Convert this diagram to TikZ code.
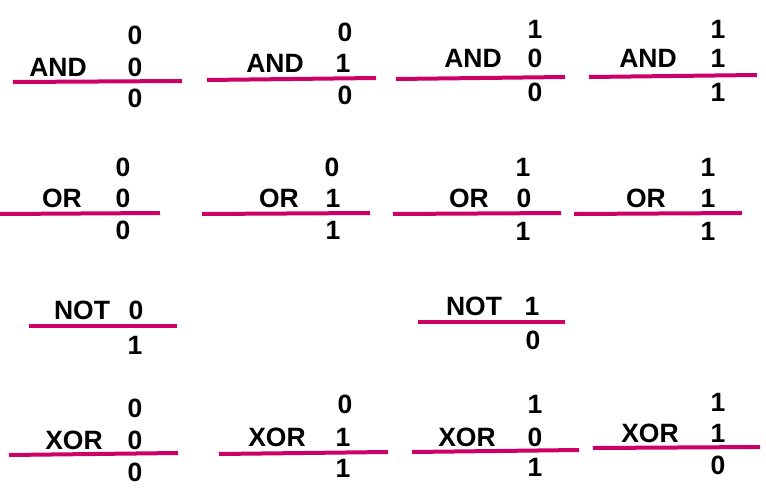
\documentclass[tikz,border=0pt]{standalone}
\usepackage{fontspec}
\setmainfont{Liberation Sans}
\definecolor{barcol}{RGB}{204,0,102}
\begin{document}
\begin{tikzpicture}[x=1pt,y=-1pt,
  txt/.style={inner sep=0pt,text height=19pt,text depth=0pt,font=\fontsize{26.5}{30}\selectfont\bfseries},
  bar/.style={draw=barcol,line width=4pt}]
\useasboundingbox (0,0) rectangle (766,498);
% ---------- AND row ----------
\node[txt] (l1) at (58,67) {AND};
\node[txt] (t1) at (135,35) {0};
\node[txt] (m1) at (135,67) {0};
\node[txt] (b1) at (135,98) {0};
\coordinate (s1) at (13,82); \coordinate (e1) at (182,81);
\draw[bar] (s1) -- (e1);

\node[txt] (l2) at (275,63) {AND};
\node[txt] (t2) at (345,32) {0};
\node[txt] (m2) at (343,63) {1};
\node[txt] (b2) at (345,95) {0};
\coordinate (s2) at (207,80); \coordinate (e2) at (376,78);
\draw[bar] (s2) -- (e2);

\node[txt] (l3) at (473,58) {AND};
\node[txt] (t3) at (535,29) {1};
\node[txt] (m3) at (535,58) {0};
\node[txt] (b3) at (535,92) {0};
\coordinate (s3) at (396,79); \coordinate (e3) at (565,77);
\draw[bar] (s3) -- (e3);

\node[txt] (l4) at (648,58) {AND};
\node[txt] (t4) at (718,29) {1};
\node[txt] (m4) at (718,58) {1};
\node[txt] (b4) at (718,92) {1};
\coordinate (s4) at (589,77); \coordinate (e4) at (757,75);
\draw[bar] (s4) -- (e4);
% ---------- OR row ----------
\node[txt] (l5) at (62,198) {OR};
\node[txt] (t5) at (123,167) {0};
\node[txt] (m5) at (123,198) {0};
\node[txt] (b5) at (123,230) {0};
\coordinate (s5) at (0,214); \coordinate (e5) at (160,213);
\draw[bar] (s5) -- (e5);

\node[txt] (l6) at (279,198) {OR};
\node[txt] (t6) at (332,167) {0};
\node[txt] (m6) at (333,198) {1};
\node[txt] (b6) at (333,230) {1};
\coordinate (s6) at (202,214); \coordinate (e6) at (370,213);
\draw[bar] (s6) -- (e6);

\node[txt] (l7) at (469,198) {OR};
\node[txt] (t7) at (523,167) {1};
\node[txt] (m7) at (524,198) {0};
\node[txt] (b7) at (523,231) {1};
\coordinate (s7) at (393,214); \coordinate (e7) at (561,213);
\draw[bar] (s7) -- (e7);

\node[txt] (l8) at (646,198) {OR};
\node[txt] (t8) at (708,167) {1};
\node[txt] (m8) at (708,198) {1};
\node[txt] (b8) at (708,231) {1};
\coordinate (s8) at (574,214); \coordinate (e8) at (742,213);
\draw[bar] (s8) -- (e8);
% ---------- NOT row ----------
\node[txt] (l9) at (82,310) {NOT};
\node[txt] (m9) at (136,310) {0};
\node[txt] (b9) at (135,345) {1};
\coordinate (s9) at (29,326); \coordinate (e9) at (177,326);
\draw[bar] (s9) -- (e9);

\node[txt] (l10) at (474,306) {NOT};
\node[txt] (m10) at (532,306) {1};
\node[txt] (b10) at (533,340) {0};
\coordinate (s10) at (418,322); \coordinate (e10) at (565,322);
\draw[bar] (s10) -- (e10);
% ---------- XOR row ----------
\node[txt] (l11) at (74,440) {XOR};
\node[txt] (t11) at (135,408) {0};
\node[txt] (m11) at (135,440) {0};
\node[txt] (b11) at (135,472) {0};
\coordinate (s11) at (9,455); \coordinate (e11) at (178,453);
\draw[bar] (s11) -- (e11);

\node[txt] (l12) at (277,437) {XOR};
\node[txt] (t12) at (345,404) {0};
\node[txt] (m12) at (343,437) {1};
\node[txt] (b12) at (343,468) {1};
\coordinate (s12) at (219,454); \coordinate (e12) at (388,452);
\draw[bar] (s12) -- (e12);

\node[txt] (l13) at (467,437) {XOR};
\node[txt] (t13) at (535,404) {1};
\node[txt] (m13) at (535,437) {0};
\node[txt] (b13) at (535,467) {1};
\coordinate (s13) at (412,452); \coordinate (e13) at (579,450);
\draw[bar] (s13) -- (e13);

\node[txt] (l14) at (650,433) {XOR};
\node[txt] (t14) at (718,402) {1};
\node[txt] (m14) at (718,433) {1};
\node[txt] (b14) at (718,465) {0};
\coordinate (s14) at (593,448); \coordinate (e14) at (760,447);
\draw[bar] (s14) -- (e14);
\end{tikzpicture}
\end{document}
